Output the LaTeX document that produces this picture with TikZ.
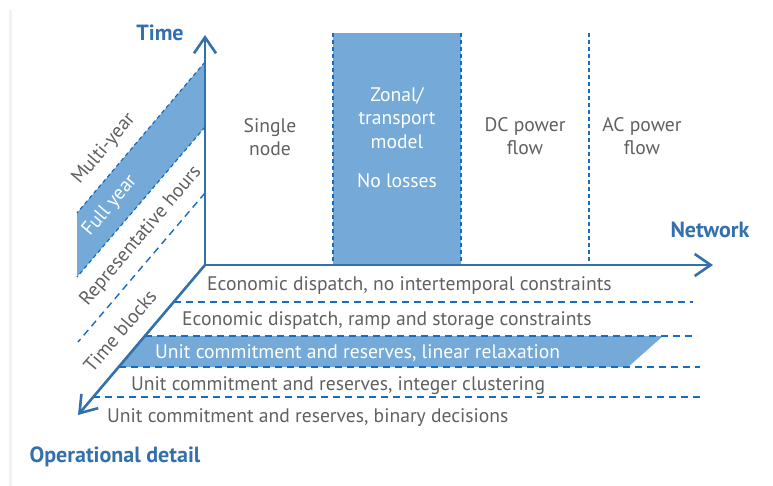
\documentclass[tikz,border=0pt]{standalone}
\usepackage{fontspec}
\setmainfont{PT Sans}
\usetikzlibrary{arrows.meta}
\definecolor{axisblue}{RGB}{52,112,172}
\definecolor{fillblue}{RGB}{117,170,216}
\definecolor{dashblue}{RGB}{22,108,190}
\definecolor{txtgray}{RGB}{96,96,96}
\tikzset{
 axisline/.style={draw=axisblue,line width=2.6pt,-{Straight Barb[length=16pt,width=22pt]}},
 dline/.style={draw=dashblue,line width=1.4pt,dash pattern=on 7pt off 5pt},
 sdline/.style={draw=dashblue,line width=1.2pt,dash pattern=on 4pt off 3pt},
 lbl/.style={text=txtgray,font=\fontsize{19.6}{23.5}\selectfont,inner sep=0pt},
 wlbl/.style={lbl,text=white},
 ttl/.style={text=axisblue,font=\fontsize{22}{26}\selectfont\bfseries,inner sep=0pt},
 bandfill/.style={fill=fillblue,draw=none},
}
\begin{document}
\begin{tikzpicture}[x=1pt,y=-1pt]
\useasboundingbox (0,0) rectangle (773,486);
% faint page shadow on the left
\fill[black!5] (9,10) rectangle (12,486);

% axes coordinates
\coordinate (O) at (205,265);
\coordinate (T) at (205,35);
\coordinate (N) at (713,265);
\coordinate (D) at (78,415);

% full-year band
\fill[bandfill] (77,213) -- (205,62) -- (205,127) -- (77,277) -- cycle;
% zonal column band
\fill[bandfill] (333,33) rectangle (461,265);
% linear relaxation row band
\fill[bandfill] (145,336) -- (663,336) -- (628,367) -- (118.6,367) -- cycle;

% time dashed lines
\coordinate (t1a) at (205,62);  \coordinate (t1b) at (77,213);
\coordinate (t2a) at (205,127); \coordinate (t2b) at (77,277);
\coordinate (t3a) at (205,193); \coordinate (t3b) at (78,342);
\draw[sdline] (t1a) -- (t1b);
\draw[sdline] (t2a) -- (t2b);
\draw[dline] (t3a) -- (t3b);

% network dashed lines
\coordinate (c1a) at (333,33); \coordinate (c1b) at (333,265);
\coordinate (c2a) at (461,33); \coordinate (c2b) at (461,265);
\coordinate (c3a) at (589,33); \coordinate (c3b) at (589,265);
\draw[sdline] (c1a) -- (c1b);
\draw[sdline] (c2a) -- (c2b);
\draw[sdline] (c3a) -- (c3b);

% operational dashed lines
\coordinate (r1a) at (173.5,302); \coordinate (r1b) at (693,302);
\coordinate (r2a) at (145,336);   \coordinate (r2b) at (697,336);
\coordinate (r3a) at (118.6,367); \coordinate (r3b) at (700,367);
\coordinate (r4a) at (93,397);    \coordinate (r4b) at (700,397);
\draw[dline] (r1a) -- (r1b);
\draw[dline] (r2a) -- (r2b);
\draw[dline] (r3a) -- (r3b);
\draw[dline] (r4a) -- (r4b);

% axes
\draw[axisline] (O) -- (T);
\draw[axisline] (O) -- (N);
\draw[axisline] (O) -- (D);

% titles
\node[ttl,anchor=base] (ttime) at (160,41) {Time};
\node[ttl,anchor=base] (tnet) at (710,238) {Network};
\node[ttl,anchor=base] (top) at (115,462) {Operational detail};

% time labels
\node[lbl,rotate=49.7] (lmulti) at (104,149) {Multi-year};
\node[wlbl,rotate=49.7] (lfull) at (110,206) {Full year};
\node[lbl,rotate=49.7] (lrep) at (141,236) {Representative hours};
\node[lbl,rotate=49.7] (lblocks) at (120,331) {Time blocks};

% network labels
\node[lbl,align=center,anchor=north] (nsingle) at (270,118) {Single\\node};
\node[wlbl,align=center,anchor=north] (nzonal) at (397,87) {Zonal/\\transport\\model\\[16pt]No losses};
\node[lbl,align=center,anchor=north] (ndc) at (525,117) {DC power\\flow};
\node[lbl,align=center,anchor=north] (nac) at (642,117) {AC power\\flow};

% operational labels
\node[lbl,anchor=base west] (o1) at (207,290) {Economic dispatch, no intertemporal constraints};
\node[lbl,anchor=base west] (o2) at (182,325) {Economic dispatch, ramp and storage constraints};
\node[wlbl,anchor=base west] (o3) at (155,358) {Unit commitment and reserves, linear relaxation};
\node[lbl,anchor=base west] (o4) at (131,390) {Unit commitment and reserves, integer clustering};
\node[lbl,anchor=base west] (o5) at (107,422) {Unit commitment and reserves, binary decisions};
\end{tikzpicture}
\end{document}
